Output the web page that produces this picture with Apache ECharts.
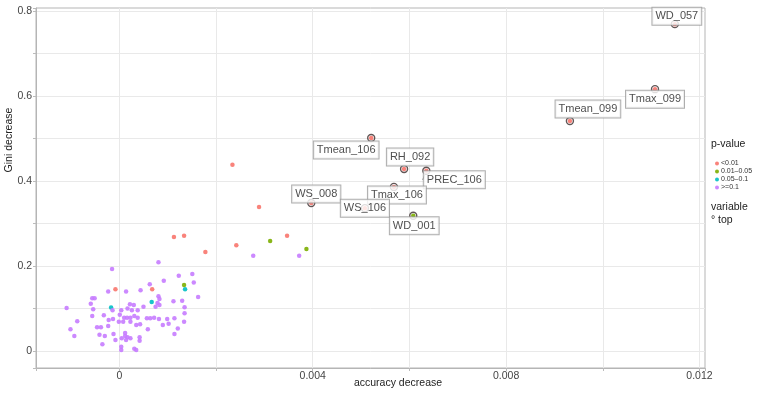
<!DOCTYPE html>
<html><head><meta charset="utf-8">
<script src="https://cdn.jsdelivr.net/npm/echarts@6/dist/echarts.min.js"></script>
<style>html,body{margin:0;padding:0;background:#fff}#c{width:761px;height:395px}</style>
</head><body><div id="c"></div>
<script>
// ---- data ----
const groupNames = ['<0.01', '0.01–0.05', '0.05–0.1', '>=0.1'];
const pLow = [[0.00113,0.268],[0.00134,0.271],[-0.00008,0.145],[0.00068,0.145],[0.00234,0.438],[0.00289,0.339],[0.00242,0.249],[0.00347,0.271],[0.00178,0.233]];
const pMid = [[0.00134,0.155],[0.00312,0.259],[0.00387,0.240]];
const pHigh = [[0.00136,0.145],[0.00067,0.115],[-0.00017,0.102]];
const pNone = [[0.00081,0.209],[-0.00015,0.193],[0.00123,0.177],[0.00151,0.181],[0.00154,0.161],[0.00163,0.127],[0.00092,0.165],[0.00063,0.157],[0.00044,0.143],[0.00014,0.140],[-0.00023,0.140],[-0.00056,0.124],[-0.00051,0.124],[-0.00109,0.101],[-0.00059,0.111],[-0.00054,0.098],[0.00081,0.129],[0.00083,0.122],[0.00079,0.113],[0.00075,0.104],[0.00083,0.108],[0.00112,0.117],[0.00130,0.118],[0.00135,0.103],[0.00022,0.110],[0.00030,0.108],[0.00017,0.100],[0.00026,0.096],[0.00050,0.104],[0.00038,0.096],[0.00004,0.096],[-0.00014,0.096],[-0.00056,0.082],[-0.00032,0.084],[-0.00087,0.070],[0.00001,0.085],[0.00010,0.078],[0.00031,0.082],[0.00038,0.078],[0.00016,0.078],[0.00023,0.078],[-0.00013,0.075],[-0.00022,0.073],[0.00057,0.077],[0.00064,0.077],[0.00072,0.078],[0.00082,0.075],[0.00099,0.075],[0.00114,0.077],[0.00135,0.089],[0.00134,0.069],[-0.00046,0.056],[-0.00038,0.056],[-0.00001,0.069],[0.00008,0.069],[0.00023,0.069],[0.00035,0.061],[0.00043,0.063],[-0.00023,0.059],[-0.00101,0.051],[0.00090,0.061],[0.00102,0.064],[0.00121,0.053],[0.00059,0.051],[-0.00012,0.040],[0.00012,0.042],[-0.00041,0.038],[-0.00030,0.035],[-0.00093,0.035],[0.00012,0.035],[0.00017,0.032],[0.00023,0.030],[0.00005,0.030],[0.00014,0.026],[0.00114,0.040],[0.00042,0.032],[0.00042,0.024],[-0.00008,0.026],[-0.00035,0.016],[0.00004,0.010],[0.00004,0.002],[0.00031,0.005],[0.00035,0.002],[0.00277,0.224],[0.00372,0.224]];
const topNames = ['WD_057','Tmax_099','Tmean_099','Tmean_106','RH_092','PREC_106','Tmax_106','WS_008','WS_106','WD_001'];
const topX = [0.01149,0.01108,0.00932,0.00521,0.00589,0.00635,0.00568,0.00397,0.00508,0.00608];
const topY = [0.769,0.616,0.541,0.501,0.428,0.424,0.386,0.348,0.336,0.318];
const topGroup = [0,0,0,0,0,0,0,0,0,1];
const xTicks = [0, 0.004, 0.008, 0.012];
const yTicks = [0, 0.2, 0.4, 0.6, 0.8];

// ---- layout / style (not data) ----
const groupColors = ['#F8766D', '#7CAE00', '#00BFC4', '#C77CFF'];
const labelOffsets = [[2,-8],[0,10],[18,-12],[-25,12],[6,-12],[28,9],[3,8],[5,-9],[0,0],[1,10]];
const FONT = '"Liberation Sans", Arial, sans-serif';

const groupData = [pLow.slice(), pMid.slice(), pHigh.slice(), pNone.slice()];
topX.forEach((x, i) => groupData[topGroup[i]].push([x, topY[i]]));

const series = groupNames.map((n, g) => ({
  type: 'scatter', name: n, data: groupData[g], symbolSize: 4.5, z: 2,
  itemStyle: { color: groupColors[g], opacity: 0.9 }, emphasis: { disabled: true }
}));
series.push({
  type: 'scatter', name: 'top', z: 3, symbolSize: 7,
  data: topX.map((x, i) => ({ value: [x, topY[i]], name: topNames[i], labelLine: { show: i === 5 } })),
  itemStyle: { color: 'rgba(0,0,0,0)', borderColor: '#3a2a2a', borderWidth: 1.4 },
  label: {
    show: true, position: 'inside', formatter: p => p.name,
    color: '#222', fontFamily: FONT, fontSize: 11, lineHeight: 13,
    backgroundColor: '#fff', borderColor: '#9a9a9a', borderWidth: 1, padding: [2, 3, 2, 3]
  },
  labelLayout: p => ({ dx: labelOffsets[p.dataIndex][0], dy: labelOffsets[p.dataIndex][1] }),
  labelLine: { show: false, lineStyle: { color: '#666', width: 1 } },
  emphasis: { disabled: true }
});

const chart = echarts.init(document.getElementById('c'), null, { renderer: 'canvas' });
chart.setOption({
  animation: false,
  backgroundColor: '#fff',
  textStyle: { fontFamily: FONT },
  grid: { left: 36, right: 56, top: 8, bottom: 27, show: true, borderColor: '#b5b5b5', borderWidth: 1, backgroundColor: 'transparent' },
  xAxis: {
    type: 'value', min: -0.001723, max: 0.012114, splitNumber: 7, minInterval: 0.002, maxInterval: 0.002,
    axisLine: { show: true, onZero: false, lineStyle: { color: '#b5b5b5' } },
    axisTick: { show: true, length: 3, lineStyle: { color: '#bbb' } },
    axisLabel: { customValues: xTicks, formatter: v => v === 0 ? '0' : String(+v.toFixed(3)), color: '#444', fontSize: 10.5, fontFamily: FONT, margin: 3 },
    splitLine: { show: true, showMinLine: false, showMaxLine: false, lineStyle: { color: '#e9e9e9', width: 1 } }
  },
  yAxis: {
    type: 'value', min: -0.0401, max: 0.807, splitNumber: 8, minInterval: 0.1, maxInterval: 0.1,
    axisLine: { show: true, onZero: false, lineStyle: { color: '#b5b5b5' } },
    axisTick: { show: true, length: 3, lineStyle: { color: '#bbb' } },
    axisLabel: { customValues: yTicks, formatter: v => v === 0 ? '0' : v.toFixed(1), color: '#444', fontSize: 10.5, fontFamily: FONT, margin: 4 },
    splitLine: { show: true, showMinLine: false, showMaxLine: false, lineStyle: { color: '#e9e9e9', width: 1 } }
  },
  legend: {
    data: groupNames, orient: 'vertical', left: 715, top: 160, icon: 'circle',
    itemWidth: 4, itemHeight: 4, itemGap: 1, padding: 0, selectedMode: false,
    textStyle: { fontSize: 7, color: '#333', fontFamily: FONT, padding: [0, 0, 0, -3] }
  },
  graphic: [
    { type: 'text', left: 711, top: 139, style: { text: 'p-value', fontSize: 10.5, fontFamily: FONT, fill: '#222' } },
    { type: 'text', left: 711, top: 202, style: { text: 'variable', fontSize: 10.5, fontFamily: FONT, fill: '#222' } },
    { type: 'text', left: 711, top: 215, style: { text: '° top', fontSize: 10.5, fontFamily: FONT, fill: '#222' } },
    { type: 'text', x: 398, y: 383, style: { text: 'accuracy decrease', fontSize: 10.5, fontFamily: FONT, fill: '#222', align: 'center', verticalAlign: 'middle' } },
    { type: 'text', x: 9, y: 140, rotation: Math.PI / 2, style: { text: 'Gini decrease', fontSize: 10.5, fontFamily: FONT, fill: '#222', align: 'center', verticalAlign: 'middle' } }
  ],
  series
});
</script></body></html>
